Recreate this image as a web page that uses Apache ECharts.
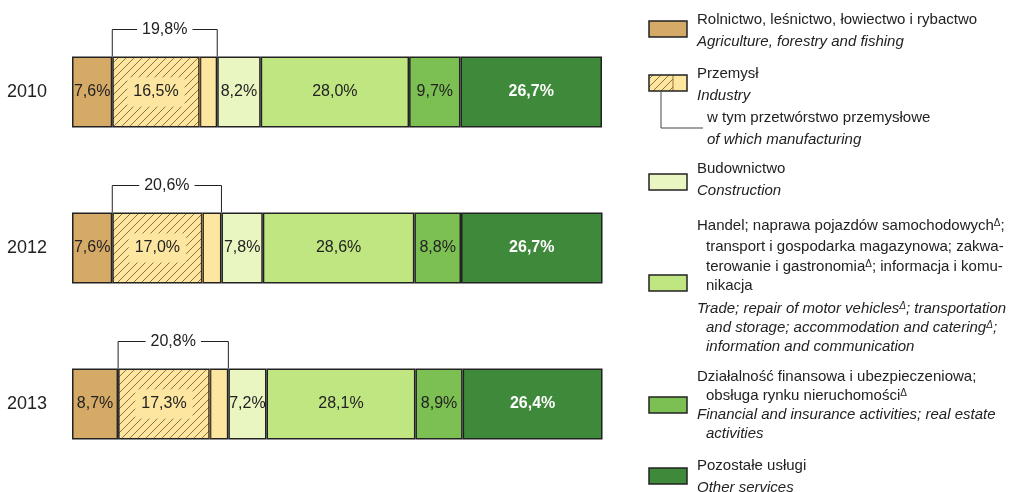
<!DOCTYPE html>
<html><head><meta charset="utf-8">
<script src="https://cdn.jsdelivr.net/npm/echarts@6/dist/echarts.min.js"></script>
<style>html,body{margin:0;padding:0;background:#fff}#c{width:1016px;height:492px}</style>
</head><body><div id="c"></div>
<script>
const categories = ['2010', '2012', '2013'];
const agriculture = [7.6, 7.6, 8.7];
const industryTotal = [19.8, 20.6, 20.8];
const manufacturing = [16.5, 17.0, 17.3];
const construction = [8.2, 7.8, 7.2];
const trade = [28.0, 28.6, 28.1];
const financial = [9.7, 8.8, 8.9];
const otherServices = [26.7, 26.7, 26.4];

const industryRest = industryTotal.map((t, i) => +(t - manufacturing[i]).toFixed(1));

const FONT = '"Liberation Sans Narrow", "Arial Narrow", "Liberation Sans", Arial, sans-serif';
const TXT = '#222';
const C = {
  agr: '#d5a966', ind: '#fde6a0', con: '#e9f6c1', trade: '#bfe681', fin: '#7cc053', oth: '#3f893b', hatch: '#94703c'
};

function makeHatch() {
  const s = 8;
  const cv = document.createElement('canvas');
  cv.width = s; cv.height = s;
  const g = cv.getContext('2d');
  g.fillStyle = C.ind; g.fillRect(0, 0, s, s);
  g.strokeStyle = C.hatch; g.lineWidth = 1;
  g.beginPath();
  g.moveTo(-1, s + 1); g.lineTo(s + 1, -1);
  g.moveTo(-1, 1); g.lineTo(1, -1);
  g.moveTo(s - 1, s + 1); g.lineTo(s + 1, s - 1);
  g.stroke();
  return cv;
}
const hatchCanvas = makeHatch();
const hatchFill = { image: hatchCanvas, repeat: 'repeat' };

const fmt = v => v.toFixed(1).replace('.', ',') + '%';
const BW = 71;
const border = { borderColor: '#222', borderWidth: 1.5 };
const lab = (extra) => Object.assign({
  show: true, position: 'inside', color: TXT, fontSize: 16, fontFamily: FONT,
  formatter: p => fmt(p.value)
}, extra || {});

const series = [
  { name: 'agr', type: 'bar', stack: 't', barWidth: BW, data: agriculture,
    itemStyle: Object.assign({ color: C.agr }, border), label: lab() },
  { name: 'man', type: 'bar', stack: 't', barWidth: BW, data: manufacturing,
    itemStyle: Object.assign({ color: hatchFill }, border),
    label: lab({ backgroundColor: C.ind, padding: [7, 6, 6, 6] }) },
  { name: 'indRest', type: 'bar', stack: 't', barWidth: BW, data: industryRest,
    itemStyle: Object.assign({ color: C.ind }, border), label: { show: false } },
  { name: 'con', type: 'bar', stack: 't', barWidth: BW, data: construction,
    itemStyle: Object.assign({ color: C.con }, border), label: lab() },
  { name: 'trade', type: 'bar', stack: 't', barWidth: BW, data: trade,
    itemStyle: Object.assign({ color: C.trade }, border), label: lab() },
  { name: 'fin', type: 'bar', stack: 't', barWidth: BW, data: financial,
    itemStyle: Object.assign({ color: C.fin }, border), label: lab() },
  { name: 'oth', type: 'bar', stack: 't', barWidth: BW, data: otherServices,
    itemStyle: Object.assign({ color: C.oth }, border),
    label: lab({ color: '#fff', fontWeight: 'bold' }) },
  { name: 'bracket', type: 'custom', z: 10, clip: false, silent: true,
    data: categories.map((c, i) => [i, agriculture[i], agriculture[i] + manufacturing[i], agriculture[i] + industryTotal[i], industryTotal[i]]),
    encode: { x: [1, 2, 3], y: 0 },
    renderItem: (params, api) => {
      const ci = api.value(0);
      const s = api.value(1), m = api.value(2), e = api.value(3), tot = api.value(4);
      const p1 = api.coord([s, ci]), pm = api.coord([m, ci]), p2 = api.coord([e, ci]);
      const top = p1[1] - BW / 2, bot = p1[1] + BW / 2;
      const hy = top - 27;
      return { type: 'group', children: [
        { type: 'line', shape: { x1: pm[0], y1: top + 1, x2: pm[0], y2: bot - 1 },
          style: { stroke: C.hatch, lineWidth: 1.2 } },
        { type: 'polyline', shape: { points: [[p1[0], top], [p1[0], hy], [p2[0], hy], [p2[0], top]] },
          style: { stroke: '#222', lineWidth: 1, fill: null } },
        { type: 'text', x: (p1[0] + p2[0]) / 2, y: hy,
          style: { text: fmt(tot), align: 'center', verticalAlign: 'middle', fill: TXT,
            font: '16px ' + FONT, backgroundColor: '#fff', padding: [0, 5] } }
      ]};
    }
  }
];

// legend graphics
const LX = 649, LW = 38, LH = 16, TX = 697, TX2 = 706, LFS = 15;
function t(x, y, text, italic) {
  const fs = italic ? 'italic' : 'normal';
  return { type: 'text', x: x, y: y, silent: true,
    style: { text: text, fill: TXT, fontFamily: FONT, fontSize: LFS, fontStyle: fs,
      verticalAlign: 'middle', align: 'left',
      rich: {
        s: { fontSize: 10, fontStyle: fs, fontFamily: FONT, fill: TXT, verticalAlign: 'top', lineHeight: 10 },
        n: { fontSize: LFS, fontStyle: fs, fontFamily: FONT, fill: TXT }
      } } };
}
function box(y, fill) {
  return { type: 'rect', shape: { x: LX, y: y, width: LW, height: LH }, silent: true,
    style: { fill: fill, stroke: '#222', lineWidth: 1.5 } };
}
const graphics = [
  box(21, C.agr),
  t(TX, 20, 'Rolnictwo, leśnictwo, łowiectwo i rybactwo'),
  t(TX, 42, 'Agriculture, forestry and fishing', true),
  { type: 'rect', shape: { x: LX, y: 75, width: 24, height: LH }, silent: true, style: { fill: hatchFill } },
  { type: 'rect', shape: { x: LX + 24, y: 75, width: LW - 24, height: LH }, silent: true, style: { fill: C.ind } },
  { type: 'line', shape: { x1: LX + 24, y1: 75, x2: LX + 24, y2: 91 }, silent: true, style: { stroke: C.hatch, lineWidth: 1 } },
  { type: 'rect', shape: { x: LX, y: 75, width: LW, height: LH }, silent: true, style: { fill: null, stroke: '#222', lineWidth: 1.5 } },
  { type: 'polyline', shape: { points: [[661, 92], [661, 128], [703, 128]] }, silent: true, style: { stroke: '#444', lineWidth: 1, fill: null } },
  t(TX, 74, 'Przemysł'),
  t(TX, 96, 'Industry', true),
  t(TX2 + 1, 118, 'w tym przetwórstwo przemysłowe'),
  t(TX2 + 1, 140, 'of which manufacturing', true),
  box(174, C.con),
  t(TX, 169, 'Budownictwo'),
  t(TX, 191, 'Construction', true),
  box(275, C.trade),
  t(TX, 226, '{n|Handel; naprawa pojazdów samochodowych}{s|Δ}{n|;}'),
  t(TX2, 247, 'transport i gospodarka magazynowa; zakwa-'),
  t(TX2, 267, '{n|terowanie i gastronomia}{s|Δ}{n|; informacja i komu-}'),
  t(TX2, 286, 'nikacja'),
  t(TX, 309, '{n|Trade; repair of motor vehicles}{s|Δ}{n|; transportation}', true),
  t(TX2, 328, '{n|and storage; accommodation and catering}{s|Δ}{n|;}', true),
  t(TX2, 347, 'information and communication', true),
  box(397, C.fin),
  t(TX, 377, 'Działalność finansowa i ubezpieczeniowa;'),
  t(TX2, 396, '{n|obsługa rynku nieruchomości}{s|Δ}'),
  t(TX, 415, 'Financial and insurance activities; real estate', true),
  t(TX2, 434, 'activities', true),
  box(468, C.oth),
  t(TX, 466, 'Pozostałe usługi'),
  t(TX, 488, 'Other services', true)
];

const chart = echarts.init(document.getElementById('c'), null, { renderer: 'canvas' });
chart.setOption({
  animation: false,
  backgroundColor: '#fff',
  grid: { left: 72, right: 414, top: 14, bottom: 10 },
  xAxis: { type: 'value', min: 0, max: 100, show: false },
  yAxis: { type: 'category', data: categories, inverse: true,
    axisLine: { show: false }, axisTick: { show: false },
    axisLabel: { fontSize: 18, color: TXT, fontFamily: FONT, margin: 25 } },
  series: series,
  graphic: graphics
});
</script>
</body></html>
